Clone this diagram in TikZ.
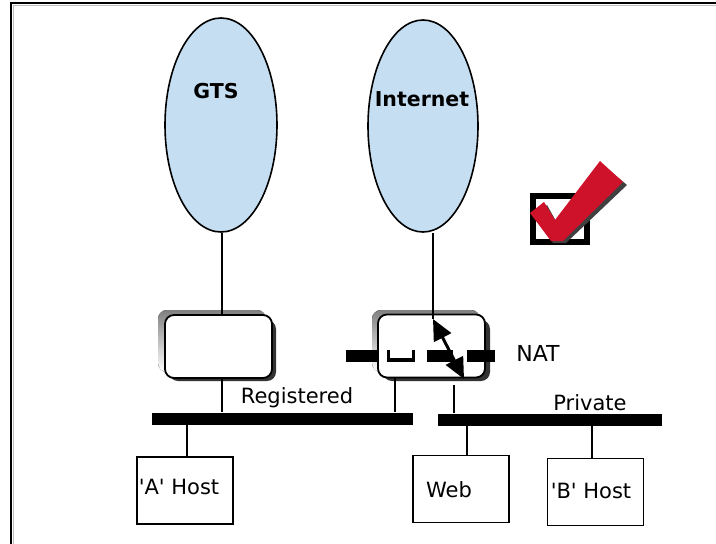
\documentclass[tikz,border=0pt]{standalone}
\usepackage{fontspec}
\setmainfont{DejaVu Sans}
\usetikzlibrary{shapes.geometric,arrows.meta}
\definecolor{cloud}{RGB}{197,222,242}
\definecolor{chk}{RGB}{206,18,42}
\definecolor{shade}{RGB}{128,128,128}
\begin{document}
\begin{tikzpicture}[x=1pt,y=-1pt,
  wire/.style={line width=1.6pt},
  cloudnode/.style={ellipse,draw,line width=1.6pt,fill=cloud,inner sep=0pt},
  rbox/.style={draw,line width=1.8pt,fill=white,rounded corners=9pt,minimum width=107pt,minimum height=63pt,inner sep=0pt},
  hostbox/.style={draw,line width=1.6pt,fill=white,minimum width=96pt,minimum height=67pt,inner sep=0pt},
  bus/.style={fill=black,inner sep=0pt,minimum height=12pt},
  lbl/.style={font=\fontsize{21}{25}\selectfont,anchor=base,inner sep=0pt},
  blbl/.style={font=\bfseries\fontsize{20.5}{24}\selectfont,anchor=base,inner sep=0pt},
  natseg/.style={fill=black},
  natarrow/.style={line width=3pt,{Triangle[length=21pt,width=19pt]}-{Triangle[length=21pt,width=19pt]}}]
\useasboundingbox (0,0) rectangle (716,544);
% frame
\draw[line width=2.5pt] (11,544) -- (11,3) -- (716,3);
\draw[shade!50,line width=1pt] (13.5,544) -- (13.5,5.5) -- (716,5.5);
% clouds
\node[cloudnode,minimum width=112pt,minimum height=214pt] (gts) at (221,125) {};
\node[cloudnode,minimum width=110pt,minimum height=212pt] (inet) at (423,126) {};
\node[blbl] (gtst) at (216,98) {GTS};
\node[blbl] (inett) at (422,106) {Internet};
% router shadows
\fill[shade,rounded corners=9pt] (158,310) rectangle (266,372);
\fill[black!80,rounded corners=9pt] (169,320) rectangle (276,381);
\fill[shade,rounded corners=9pt] (372,310) rectangle (480,372);
\fill[black!80,rounded corners=9pt] (383,320) rectangle (490,381);
% routers
\node[rbox] (r1) at (218.5,346.5) {};
\node[rbox] (r2) at (431.5,346) {};
% buses
\node[bus,minimum width=261pt] (regbus) at (282.5,418.5) {};
\node[bus,minimum width=224pt] (privbus) at (550,419.5) {};
% hosts
\node[hostbox] (hosta) at (185,490.5) {};
\node[hostbox] (web) at (461,489) {};
\node[hostbox] (hostb) at (595.5,492) {};
\node[lbl] (hostat) at (179,494) {\textquotesingle A\textquotesingle{} Host};
\node[lbl] (webt) at (449,497) {Web};
\node[lbl] (hostbt) at (591,498) {\textquotesingle B\textquotesingle{} Host};
% labels
\node[lbl] (regt) at (297,403) {Registered};
\node[lbl] (privt) at (590,410) {Private};
\node[lbl,font=\fontsize{22}{26}\selectfont] (natt) at (538,361) {NAT};
% connectors
\coordinate (xa) at (222,0);
\draw[wire] (gts.south -| xa) -- (r1.north -| xa);
\draw[wire] (r1.south -| xa) -- (regbus.north -| xa);
\coordinate (nt) at (433,319);
\draw[wire] (nt |- inet.south) -- (nt);
\coordinate (xb) at (395,0);
\draw[wire] (r2.south -| xb) -- (regbus.north -| xb);
\coordinate (np) at (454,385);
\draw[wire] (np) -- (np |- privbus.north);
\coordinate (xh) at (187,0);
\draw[wire] (regbus.south -| xh) -- (hosta.north -| xh);
\coordinate (xw) at (467,0);
\draw[wire] (privbus.south -| xw) -- (web.north -| xw);
\coordinate (xbh) at (592,0);
\draw[wire] (privbus.south -| xbh) -- (hostb.north -| xbh);
% NAT bar
\fill[natseg] (346,350) rectangle (378,362);
\fill[natseg] (387,350) rectangle (390,362);
\fill[natseg] (412,350) rectangle (415,362);
\fill[natseg] (387,357.5) rectangle (415,362);
\fill[natseg] (427,350) rectangle (453,362);
\fill[natseg] (467,350) rectangle (495,362);
% NAT arrow
\coordinate (ntb) at (464,379);
\draw[natarrow] (nt) -- (ntb);
% check box
\draw[line width=6.5pt] (533,196) rectangle (587,242);
\fill[black!75] (533,216) -- (547,205) -- (557,223) -- (602,164) -- (627,185) -- (566,243) -- (553,243) -- cycle;
\fill[chk] (530,213) -- (544,202) -- (555,220) -- (600,161) -- (623,182) -- (563,241) -- (551,241) -- cycle;
\end{tikzpicture}
\end{document}
